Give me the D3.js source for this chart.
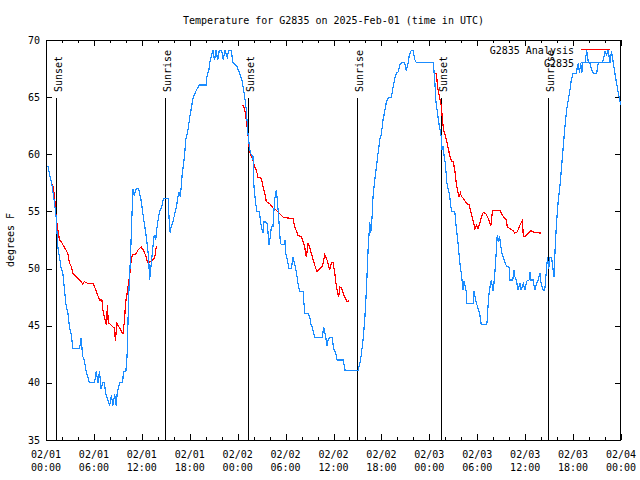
<!DOCTYPE html>
<html>
<head>
<meta charset="utf-8">
<script src="https://cdn.jsdelivr.net/npm/d3@7"></script>
<style>
  body { margin: 0; background: #fff; }
  text { font-family: "DejaVu Sans Mono", monospace; font-size: 10px; fill: #000; }
</style>
</head>
<body>
<svg id="chart" width="640" height="480"></svg>
<script>
// ---------- data (hours since 2025-02-01 00:00 UTC, degrees F) ----------
const titleText = "Temperature for G2835 on 2025-Feb-01 (time in UTC)";
const yLabel = "degrees F";
const seriesNames = ["G2835 Analysis", "G2835"];
const yTicks = [35, 40, 45, 50, 55, 60, 65, 70];
const sunLabels = ["Sunset", "Sunrise", "Sunset", "Sunrise", "Sunset", "Sunrise"];
const sunHours = [1.25, 14.94, 25.33, 38.98, 49.42, 62.9];

// G2835 Analysis (red) — null entries break the line
const analysis = [
  [0.65,57.5],[0.9,57.2],[1.07,56.3],[1.27,54.5],[1.48,53.4],[1.69,52.5],[1.9,52.35],[2.11,52.1],[2.53,51.6],[2.74,51.3],
  [2.94,50.5],[3.15,50.2],[3.36,49.6],[3.78,49.3],[4.2,49.0],[4.6,48.65],[4.8,48.86],[5.24,48.7],[5.9,48.7],[6.08,48.4],
  [6.29,48.0],[6.7,47.25],[7.0,47.25],[7.12,46.4],[7.3,45.8],[7.54,45.1],[7.7,46.8],[7.8,45.2],[7.96,45.2],[8.37,44.9],
  [8.55,44.8],[8.7,43.7],[8.87,45.2],[9.21,44.8],[9.63,44.3],[9.84,45.5],[9.96,47.0],[10.15,47.8],[10.46,49.3],[10.63,50.5],
  [10.8,51.2],[11.2,51.2],[11.5,51.6],[11.9,51.9],[12.2,51.6],[12.55,51.0],[12.7,50.5],[13.1,50.6],[13.6,50.9],[13.8,51.9],[13.95,52.0],
  null,
  [24.58,64.3],[24.67,64.3],[24.87,64.0],[25.08,63.0],[25.29,61.7],[25.5,60.2],[25.71,59.8],[25.92,59.5],[26.13,58.9],[26.34,58.6],
  [26.55,58.0],[26.96,57.9],[27.17,57.2],[27.38,56.6],[27.59,55.85],[28.0,55.7],[28.42,55.3],[28.84,55.1],[29.26,54.8],[29.68,54.5],
  [30.51,54.4],[30.93,54.4],[31.14,53.7],[31.56,52.9],[31.97,52.8],[32.39,51.9],[32.6,51.0],[32.81,52.2],[33.02,51.9],[33.23,51.3],
  [33.65,50.3],[33.94,49.7],[34.27,50.0],[34.61,50.2],[34.9,51.2],[35.19,50.75],[35.52,49.9],[35.73,50.5],[35.94,50.5],[36.15,49.7],
  [36.36,48.4],[36.65,47.5],[36.78,48.4],[36.99,48.3],[37.4,47.5],[37.7,47.1],[37.95,47.2],
  null,
  [48.68,67.1],[48.89,67.1],[49.02,65.9],[49.31,64.9],[49.52,64.2],[49.64,62.9],[49.81,62.1],[50.0,61.6],[50.23,61.0],[50.4,60.4],
  [50.56,59.9],[50.77,59.4],[50.98,59.4],[51.19,58.6],[51.32,57.75],[51.48,57.0],[51.73,56.3],[51.9,56.6],[52.03,56.3],[52.24,56.15],
  [52.65,55.7],[52.99,55.6],[53.15,55.1],[53.4,54.4],[53.7,53.5],[53.9,53.8],[54.11,53.5],[54.32,53.96],[54.53,54.5],[54.74,54.9],
  [55.07,54.8],[55.37,54.4],[55.58,53.96],[55.7,53.7],[55.91,55.1],[56.83,55.1],[57.04,54.8],[57.33,54.5],[57.66,54.25],[57.75,53.67],
  [58.08,53.5],[58.5,53.3],[58.71,53.1],[59.0,53.2],[59.34,53.8],[59.67,54.25],[59.76,52.8],[59.97,52.8],[60.17,52.94],[60.38,53.1],
  [60.72,53.3],[61.0,53.2],[61.43,53.15],[62.05,53.1]
];

// G2835 observations (blue)
const observed = [
  [0.23,59.0],[0.44,58.3],[0.77,57.2],[1.07,55.7],[1.27,54.5],[1.48,51.9],[1.69,51.0],[1.9,50.0],[2.11,49.6],[2.32,48.1],
  [2.53,46.7],[2.74,46.1],[2.94,44.9],[3.15,44.3],[3.36,43.0],[4.2,43.0],[4.4,43.9],[4.6,42.3],[4.8,42.0],[5.0,41.1],
  [5.24,40.5],[5.45,40.0],[6.08,40.0],[6.29,41.0],[6.5,40.0],[6.7,41.0],[6.9,39.5],[7.12,40.0],[7.3,40.0],[7.5,39.0],
  [7.96,38.0],[8.2,38.9],[8.37,38.0],[8.6,39.0],[8.79,38.0],[8.9,39.0],[9.21,40.0],[9.6,40.0],[9.7,41.0],[10.0,41.0],
  [10.15,42.3],[10.25,44.9],[10.35,47.5],[10.46,49.3],[10.55,50.5],[10.7,53.4],[10.88,57.0],[11.05,56.4],[11.3,57.0],[11.6,57.0],
  [11.72,56.6],[11.9,56.0],[12.13,54.8],[12.5,53.1],[12.7,51.9],[12.85,51.0],[12.97,49.0],[13.1,49.9],[13.39,51.9],[13.55,52.9],
  [13.75,52.5],[13.8,53.1],[14.0,54.1],[14.22,55.0],[14.45,55.3],[14.64,55.9],[14.75,56.1],[15.3,56.1],[15.45,53.8],[15.56,53.1],
  [15.68,53.7],[15.89,54.1],[16.23,55.1],[16.4,55.7],[16.52,56.3],[16.65,56.7],[16.81,56.3],[16.94,57.2],[17.06,58.3],[17.23,59.2],
  [17.36,59.9],[17.48,61.25],[17.77,62.1],[17.98,63.15],[18.19,64.0],[18.4,64.9],[18.82,65.6],[19.2,66.06],[20.07,66.06],[20.15,66.8],
  [20.4,67.4],[20.49,68.0],[20.69,68.5],[20.9,69.1],[21.1,68.25],[21.3,69.1],[21.5,68.25],[21.7,69.1],[22.0,69.1],[22.2,68.25],
  [22.4,69.1],[22.7,68.5],[22.9,69.1],[23.2,69.1],[23.41,68.0],[23.91,67.67],[24.25,67.08],[24.58,66.35],[24.75,65.6],[24.9,64.9],
  [25.08,63.9],[25.29,61.8],[25.42,61.0],[25.59,60.1],[25.92,59.8],[26.04,57.2],[26.25,55.7],[26.42,55.0],[26.75,55.0],[26.84,54.1],
  [26.96,53.7],[27.17,53.1],[27.3,54.1],[27.5,54.1],[27.72,53.9],[27.92,52.1],[28.09,52.8],[28.22,53.7],[28.42,53.7],[28.63,56.0],
  [28.84,56.9],[28.97,56.0],[29.18,54.0],[29.35,52.2],[29.47,52.1],[29.81,52.1],[29.93,52.5],[30.02,51.3],[30.22,50.75],[30.43,50.0],
  [30.72,50.0],[30.93,51.0],[31.14,50.4],[31.35,49.7],[31.56,48.7],[31.77,48.0],[32.19,48.0],[32.39,46.1],[32.81,46.1],[33.02,45.8],
  [33.15,45.2],[33.31,44.9],[33.44,44.6],[33.65,44.0],[34.61,44.0],[34.77,44.9],[35.03,44.0],[35.19,43.2],[35.32,43.75],[35.52,44.0],
  [35.82,44.0],[36.02,43.0],[36.28,42.6],[36.45,42.0],[37.2,42.0],[37.45,41.1],[39.08,41.1],[39.37,41.9],[39.7,43.75],[39.91,45.5],
  [40.12,48.1],[40.33,51.6],[40.54,54.1],[40.66,53.1],[40.83,54.5],[40.95,56.3],[41.17,57.75],[41.37,58.9],[41.58,60.1],[41.79,61.25],
  [42.0,61.8],[42.2,63.0],[42.4,63.7],[42.6,64.5],[42.83,64.9],[43.25,65.0],[43.46,65.9],[43.67,66.6],[43.88,67.1],[44.1,67.2],
  [44.3,67.8],[44.5,68.0],[44.9,68.0],[45.1,67.4],[45.3,67.8],[45.5,68.7],[45.75,69.1],[45.95,69.1],[46.2,68.25],[46.4,68.0],
  [48.5,68.0],[48.6,67.1],[48.7,66.2],[48.8,64.75],[49.2,62.7],[49.5,61.5],[49.6,60.4],[49.7,60.7],[49.8,60.1],[50.0,59.2],
  [50.2,57.5],[50.56,56.3],[50.77,55.0],[51.19,55.0],[51.4,53.4],[51.6,52.2],[51.82,50.5],[52.0,49.6],[52.24,48.1],[52.35,48.9],
  [52.5,48.4],[52.6,48.1],[52.7,46.96],[53.5,46.96],[53.6,48.0],[53.9,46.96],[54.3,46.1],[54.5,45.1],[55.2,45.1],[55.3,46.1],
  [55.4,47.25],[55.5,48.0],[55.6,48.4],[55.75,49.0],[55.9,48.4],[56.0,48.0],[56.2,49.6],[56.4,51.6],[56.5,52.9],[56.65,52.5],
  [56.8,52.8],[56.9,52.2],[57.1,51.3],[57.3,50.9],[57.66,50.2],[58.0,50.1],[58.1,49.0],[58.45,49.0],[58.6,49.9],[58.7,49.3],
  [58.9,49.0],[59.1,48.1],[59.34,48.7],[59.5,48.1],[59.76,48.7],[59.95,48.1],[60.2,48.9],[60.5,49.0],[60.6,49.7],[60.7,49.0],
  [61.0,49.0],[61.2,48.1],[61.43,48.7],[61.6,48.9],[61.84,49.6],[62.0,48.7],[62.26,48.1],[62.45,48.1],[62.7,50.2],[62.8,51.0],
  [62.95,50.0],[63.1,51.0],[63.3,51.0],[63.6,49.3],[63.8,52.5],[63.98,54.5],[64.15,56.0],[64.35,57.2],[64.56,58.9],[64.77,60.7],
  [64.98,62.4],[65.19,63.9],[65.4,64.75],[65.6,65.6],[65.8,66.6],[66.02,67.1],[66.4,67.1],[66.5,67.5],[66.65,68.0],[66.8,67.1],
  [66.95,68.0],[67.1,67.1],[67.2,68.0],[67.5,68.0],[67.7,69.1],[67.9,68.1],[68.1,68.0],[68.3,67.4],[68.53,67.1],[68.95,67.1],
  [69.16,68.0],[69.6,68.0],[69.78,68.25],[70.0,69.0],[70.2,68.7],[70.4,69.1],[70.62,68.0],[70.8,69.0],[71.04,68.0],[71.1,67.7],
  [71.3,66.8],[71.45,66.2],[71.6,65.6],[71.87,64.6],[72.0,64.3]
];

// ---------- drawing ----------
const W = 640, H = 480;
const m = { left: 46, right: 19, top: 40, bottom: 40 };
const t0 = Date.UTC(2025, 1, 1, 0, 0);
const toDate = h => new Date(t0 + h * 3600e3);

const svg = d3.select("#chart");
const x = d3.scaleUtc().domain([toDate(0), toDate(72)]).range([m.left, W - m.right]);
const y = d3.scaleLinear().domain([35, 70]).range([H - m.bottom, m.top]);

const majorTicks = x.ticks(d3.utcHour.every(6));
const minorTicks = x.ticks(d3.utcHour.every(2));
const fmtDay = d3.utcFormat("%m/%d");
const fmtTime = d3.utcFormat("%H:%M");

const g = svg.append("g").attr("shape-rendering", "crispEdges");

// ticks (inward, mirrored)
minorTicks.forEach(d => {
  const isMajor = d.getUTCHours() % 6 === 0;
  const len = isMajor ? 6 : 3;
  const xx = Math.round(x(d)) + 0.5;
  g.append("line").attr("x1", xx).attr("x2", xx).attr("y1", y(35)).attr("y2", y(35) - len).attr("stroke", "#000");
  g.append("line").attr("x1", xx).attr("x2", xx).attr("y1", y(70)).attr("y2", y(70) + len).attr("stroke", "#000");
});
yTicks.forEach(v => {
  const yy = Math.round(y(v)) + 0.5;
  g.append("line").attr("x1", m.left).attr("x2", m.left + 6).attr("y1", yy).attr("y2", yy).attr("stroke", "#000");
  g.append("line").attr("x1", W - m.right).attr("x2", W - m.right - 6).attr("y1", yy).attr("y2", yy).attr("stroke", "#000");
  svg.append("text").attr("x", m.left - 6).attr("y", y(v) + 3.5).attr("text-anchor", "end").text(v);
});

// x tick labels
majorTicks.forEach(d => {
  svg.append("text").attr("x", x(d)).attr("y", 457.5).attr("text-anchor", "middle").text(fmtDay(d));
  svg.append("text").attr("x", x(d)).attr("y", 471).attr("text-anchor", "middle").text(fmtTime(d));
});

// frame
g.append("rect").attr("x", m.left + 0.5).attr("y", m.top + 0.5)
  .attr("width", W - m.left - m.right - 1).attr("height", H - m.top - m.bottom)
  .attr("fill", "none").attr("stroke", "#000");

// title and y label
svg.append("text").attr("x", (m.left + W - m.right) / 2).attr("y", 23.5).attr("text-anchor", "middle").text(titleText);
svg.append("text").attr("transform", `translate(14,${(m.top + H - m.bottom) / 2}) rotate(-90)`)
  .attr("text-anchor", "middle").text(yLabel);

// sunrise / sunset markers
sunHours.forEach((h, i) => {
  const xx = Math.round(x(toDate(h))) + 0.5;
  g.append("line").attr("x1", xx).attr("x2", xx).attr("y1", 98).attr("y2", y(35)).attr("stroke", "#000");
  svg.append("text").attr("transform", `translate(${xx + 5.5},92) rotate(-90)`)
    .attr("text-anchor", "start").text(sunLabels[i]);
});

// legend
const legColors = ["#ff0000", "#1a8cff"];
seriesNames.forEach((name, i) => {
  const ly = 49.5 + i * 13;
  svg.append("text").attr("x", 574).attr("y", ly + 4).attr("text-anchor", "end").text(name);
  svg.append("line").attr("x1", 581).attr("x2", 610).attr("y1", ly).attr("y2", ly)
    .attr("stroke", legColors[i]).attr("stroke-width", 1).attr("shape-rendering", "crispEdges");
});

// series lines
const line = d3.line().defined(d => d !== null).x(d => x(toDate(d[0]))).y(d => y(d[1]));
svg.append("path").datum(analysis).attr("d", line).attr("fill", "none")
  .attr("stroke", legColors[0]).attr("stroke-width", 1.2).attr("shape-rendering", "crispEdges");
svg.append("path").datum(observed).attr("d", line).attr("fill", "none")
  .attr("stroke", legColors[1]).attr("stroke-width", 1.2).attr("shape-rendering", "crispEdges");
</script>
</body>
</html>
